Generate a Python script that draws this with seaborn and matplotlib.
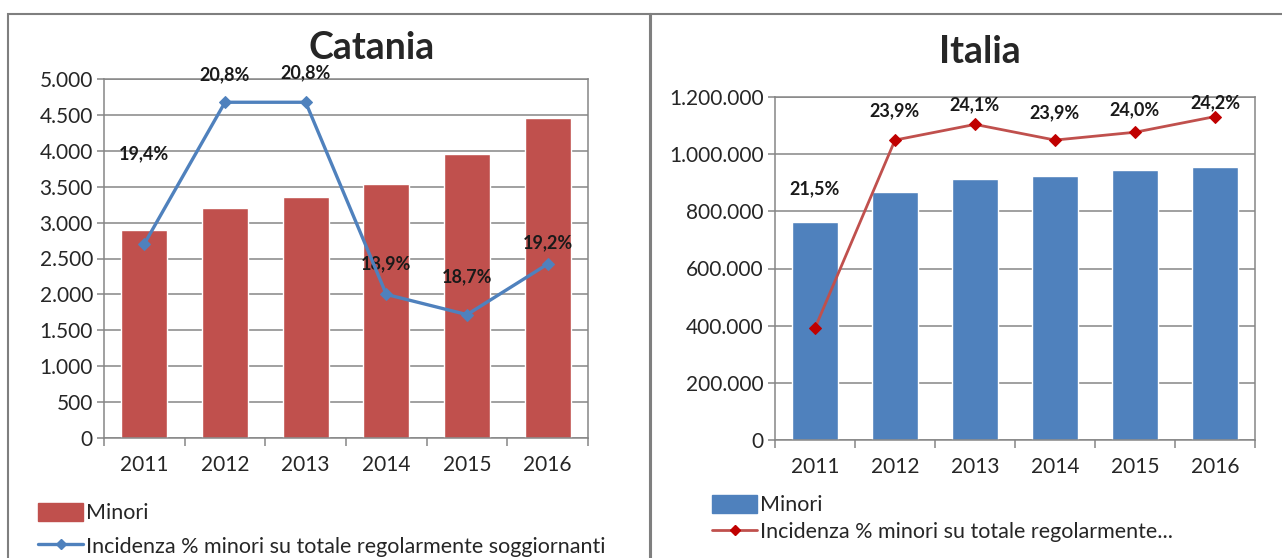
import matplotlib
matplotlib.use("Agg")
import matplotlib.pyplot as plt
import seaborn as sns
import numpy as np
import pandas as pd
from matplotlib.lines import Line2D
from matplotlib.patches import Patch, Rectangle
from matplotlib.ticker import FuncFormatter, FixedLocator

years = ["2011", "2012", "2013", "2014", "2015", "2016"]

catania_minori = [2900, 3205, 3355, 3540, 3955, 4460]
catania_incidenza = [19.4, 20.8, 20.8, 18.9, 18.7, 19.2]

italia_minori = [761000, 869000, 912000, 925000, 943000, 956000]
italia_incidenza = [21.5, 23.9, 24.1, 23.9, 24.0, 24.2]

RED = "#C0504D"
BLUE = "#4F81BD"
GRID = "#868686"

sns.set_theme(style="white")
plt.rcParams["font.family"] = ["Lato", "DejaVu Sans"]


def it_num(v, pos=None):
    return f"{v:,.0f}".replace(",", ".")


def it_pct(v):
    return f"{v:.1f}%".replace(".", ",")


def draw_panel(fig, rect, title, title_x, title_y, minori, incid, bar_color,
               line_color, ymax, ystep, y2lim, label_offsets, marker_face,
               line_width, legend_pos, legend_label, legend_spacing):
    ax = fig.add_axes(rect)
    df = pd.DataFrame({"anno": years, "minori": minori})
    sns.barplot(data=df, x="anno", y="minori", color=bar_color, width=0.57,
                saturation=1, ax=ax, zorder=2)
    ax.set_ylim(0, ymax)
    ax.set_xlim(-0.5, 5.5)
    ax.yaxis.set_major_locator(FixedLocator(np.arange(0, ymax + 1, ystep)))
    ax.yaxis.set_major_formatter(FuncFormatter(it_num))
    ax.grid(axis="y", color=GRID, linewidth=1.1, zorder=0)
    ax.set_axisbelow(True)
    for s in ax.spines.values():
        s.set_color(GRID)
        s.set_linewidth(1.1)
    ax.set_xlabel("")
    ax.set_ylabel("")
    ax.tick_params(axis="y", which="major", length=5, color=GRID, width=1.1,
                   labelsize=15, pad=3, left=True)
    ax.tick_params(axis="x", which="major", length=0, labelsize=15, pad=12)
    ax.xaxis.set_minor_locator(FixedLocator(np.arange(-0.5, 6, 1)))
    ax.tick_params(axis="x", which="minor", length=6, color=GRID, width=1.1,
                   bottom=True)

    # secondary (hidden) axis for the percentage line
    ax2 = ax.twinx()
    pos = np.arange(len(years))
    sns.lineplot(x=pos, y=incid, ax=ax2, color=line_color, linewidth=line_width,
                 marker="D", markersize=6, markerfacecolor=marker_face,
                 markeredgecolor=marker_face, zorder=4)
    ax2.set_ylim(*y2lim)
    ax2.set_xlim(-0.5, 5.5)
    ax2.axis("off")
    for x, v, off in zip(pos, incid, label_offsets):
        ax2.annotate(it_pct(v), (x, v), xytext=(0, off), textcoords="offset points",
                     ha="center", va="center", fontsize=13, fontweight="bold",
                     color="#1a1a1a")

    fig.text(title_x, title_y, title, ha="center", va="center", fontsize=27,
             fontweight="bold")

    handles = [Patch(facecolor=bar_color, edgecolor=bar_color),
               Line2D([0], [0], color=line_color, linewidth=line_width, marker="D",
                      markersize=5, markerfacecolor=marker_face,
                      markeredgecolor=marker_face)]
    fig.legend(handles, ["Minori", legend_label], loc="upper left",
               bbox_to_anchor=legend_pos, frameon=False, fontsize=15.5,
               handlelength=2.1, handleheight=0.9, handletextpad=0.15,
               labelspacing=legend_spacing, borderpad=0, borderaxespad=0)
    return ax


W, H = 1282, 558
fig = plt.figure(figsize=(W / 100, H / 100), dpi=100)
fig.patch.set_facecolor("white")

# panel frames
fig.add_artist(Rectangle((8 / W, -0.05), (650 - 8) / W, 1.05 - 14 / H,
                         transform=fig.transFigure, fill=False,
                         edgecolor="#7f7f7f", linewidth=1.5))
fig.add_artist(Rectangle((651 / W, -0.05), 0.5, 1.05 - 14 / H,
                         transform=fig.transFigure, fill=False,
                         edgecolor="#7f7f7f", linewidth=1.5))

draw_panel(fig, [104 / W, 1 - 438 / H, 484 / W, 359 / H], "Catania", 372 / W,
           1 - 48 / H, catania_minori, catania_incidenza, RED, BLUE,
           5000, 500, (17.48, 21.03), [65, 20, 21, 22, 27, 15], BLUE, 2.4,
           (38 / W, 1 - 503 / H),
           "Incidenza % minori su totale regolarmente soggiornanti", 0.6)

draw_panel(fig, [775 / W, 1 - 440 / H, 480 / W, 343 / H], "Italia", 980 / W,
           1 - 52 / H, italia_minori, italia_incidenza, BLUE, RED,
           1200000, 200000, (20.07, 24.45), [100, 21, 14, 20, 16, 10], "#C00000",
           2.0, (712 / W, 1 - 495 / H),
           "Incidenza % minori su totale regolarmente...", 0.3)

fig.savefig("out.png", dpi=100)
